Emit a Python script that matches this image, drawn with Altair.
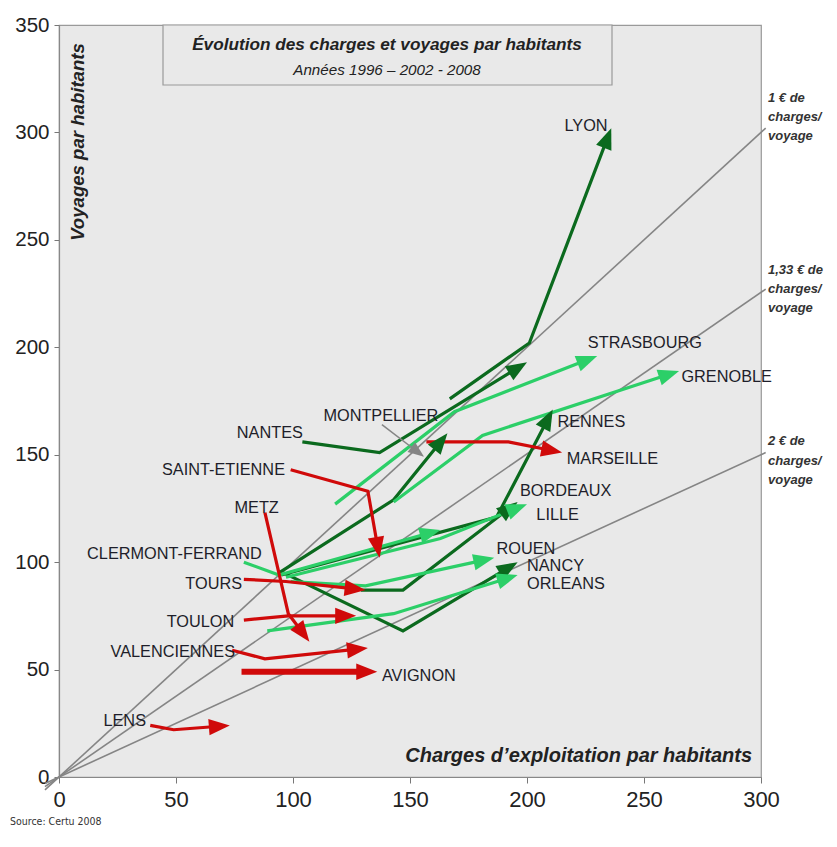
import math
import altair as alt
import pandas as pd

# ---------------- data ----------------
years = [1996, 2002, 2008]

city_names = ["LYON", "NANTES", "MONTPELLIER", "RENNES", "BORDEAUX", "NANCY",
              "STRASBOURG", "GRENOBLE", "CLERMONT-FERRAND", "LILLE", "ROUEN", "ORLEANS",
              "MARSEILLE", "SAINT-ETIENNE", "TOURS", "TOULON", "METZ", "VALENCIENNES",
              "AVIGNON", "LENS"]
city_group = ["dark", "dark", "dark", "dark", "dark", "dark",
              "light", "light", "light", "light", "light", "light",
              "red", "red", "red", "red", "red", "red", "red", "red"]

charges_1996 = [167, 104, 94, 95, 129, 96, 118, 143, 79, 97, 99, 89, 157, 99, 79, 79, 88, 74, 78, 39]
charges_2002 = [201, 137, 143, 187, 147, 147, 169, 181, 94, 163, 131, 143, 192, 132, 97, 98, 98, 88, 107, 49]
charges_2008 = [236, 200, 166, 211, 196, 196, 230, 265, 163, 200, 186, 196, 215, 137, 131, 127, 107, 132, 136, 73]

voyages_1996 = [176, 156, 95, 94, 87, 95, 127, 128, 100, 93, 91, 68, 156, 143, 92, 73, 123, 59, 49, 24]
voyages_2002 = [202, 151, 129, 121, 87, 68, 170, 159, 94, 111, 89, 76, 156, 133, 91, 75, 76, 55, 49, 22]
voyages_2008 = [302, 193, 160, 171, 128, 100, 196, 189, 115, 127, 102, 94, 151, 102, 87, 75, 63, 60, 49, 24]

# label anchor points (left end of each name, in chart units)
label_x = [216, 76, 113, 213, 197, 200, 226, 266, 12, 204, 187, 200, 217, 44, 54, 46, 75, 22, 138, 19]
label_y = [303, 160, 168, 165, 133, 98, 202, 186, 104, 122, 106, 90, 148, 143, 90, 72, 125, 58, 47, 26]

# Montpellier pointer (from label to its line)
pointer_x = [138, 156]
pointer_y = [164, 149]

# cost-per-trip reference lines
ratio_names = ["1", "1.33", "2"]
ratio_values = [1.0, 1.33, 2.0]
ratio_x = [-6, 302]

# ---------------- geometry ----------------
W, H = 702, 752
XMAX, YMAX = 300, 350
sx, sy = W / XMAX, H / YMAX
HEAD = 440             # symbol size of arrowheads
HALF = math.sqrt(HEAD) / 2

DARK, LIGHT, RED, GREY = "#0b6a1e", "#2ccf68", "#d00a0a", "#858585"

rows, heads = [], []
for i, c in enumerate(city_names):
    xs = [charges_1996[i], charges_2002[i], charges_2008[i]]
    ys = [voyages_1996[i], voyages_2002[i], voyages_2008[i]]
    a = math.atan2(-(ys[2] - ys[1]) * sy, (xs[2] - xs[1]) * sx)
    cx = xs[2] - HALF * math.cos(a) / sx
    cy = ys[2] + HALF * math.sin(a) / sy
    for k in range(3):
        px, py = (xs[k], ys[k]) if k < 2 else (cx, cy)
        rows.append({"city": c, "group": city_group[i], "year": years[k],
                     "x": px, "y": py})
    heads.append({"city": c, "group": city_group[i], "x": cx, "y": cy,
                  "angle": math.degrees(a) % 360})

lines_df = pd.DataFrame(rows)
heads_df = pd.DataFrame(heads)
labels_df = pd.DataFrame({"city": city_names, "x": label_x, "y": label_y})

diag_rows = []
for n, r in zip(ratio_names, ratio_values):
    for xv in ratio_x:
        diag_rows.append({"ratio": n, "x": xv, "y": xv / r})
diag_df = pd.DataFrame(diag_rows)

pa = math.atan2(-(pointer_y[1] - pointer_y[0]) * sy, (pointer_x[1] - pointer_x[0]) * sx)
PH = 8
pcx = pointer_x[1] - PH * math.cos(pa) / sx
pcy = pointer_y[1] + PH * math.sin(pa) / sy
pointer_df = pd.DataFrame({"x": [pointer_x[0], pcx], "y": [pointer_y[0], pcy], "o": [0, 1]})
pointer_head_df = pd.DataFrame({"x": [pcx], "y": [pcy], "angle": [math.degrees(pa) % 360]})

xscale = alt.Scale(domain=[0, XMAX], nice=False, zero=False)
yscale = alt.Scale(domain=[0, YMAX], nice=False, zero=False)
cscale = alt.Scale(domain=["dark", "light", "red"], range=[DARK, LIGHT, RED])
ARROW = "M1,0L-1,-0.78L-1,0.78Z"

X = alt.X("x:Q", scale=xscale, axis=alt.Axis(
    values=[0, 50, 100, 150, 200, 250, 300], title=None, grid=False,
    labelFont="Liberation Sans", labelFontSize=22, labelColor="#222",
    labelPadding=6, tickSize=6, tickColor="#777", domainColor="#888", labelFlush=False))
Y = alt.Y("y:Q", scale=yscale, axis=alt.Axis(
    values=[0, 50, 100, 150, 200, 250, 300, 350], title=None, grid=False,
    labelFont="Liberation Sans", labelFontSize=20.5, labelColor="#222",
    labelPadding=5, tickSize=5, tickColor="#777", domainColor="#888", labelFlush=False))

diag = alt.Chart(diag_df).mark_line(color=GREY, strokeWidth=1.6).encode(
    x=X, y=Y, detail="ratio:N")

city_lines = alt.Chart(lines_df).mark_line(strokeJoin="miter").encode(
    x="x:Q", y="y:Q", detail="city:N", order="year:O",
    color=alt.Color("group:N", scale=cscale, legend=None),
    strokeWidth=alt.condition(alt.datum.city == "AVIGNON", alt.value(6), alt.value(3.2)))

city_heads = alt.Chart(heads_df).mark_point(shape=ARROW, filled=True, size=HEAD, opacity=1).encode(
    x="x:Q", y="y:Q", angle=alt.Angle("angle:Q", scale=None),
    color=alt.Color("group:N", scale=cscale, legend=None))

city_labels = alt.Chart(labels_df).mark_text(
    align="left", baseline="middle", font="Liberation Sans", fontSize=16.3, color="#1e1e2a"
).encode(x="x:Q", y="y:Q", text="city:N")

pointer = alt.Chart(pointer_df).mark_line(color=GREY, strokeWidth=1.5).encode(
    x="x:Q", y="y:Q", order="o:Q")
pointer_head = alt.Chart(pointer_head_df).mark_point(
    shape=ARROW, filled=True, size=PH * PH * 4, color=GREY, opacity=1).encode(
    x="x:Q", y="y:Q", angle=alt.Angle("angle:Q", scale=None))

# title box inside the plot
box = alt.Chart(pd.DataFrame({"a": [0]})).mark_rect(
    fill="#e9e9e9", stroke="#9a9a9a", strokeWidth=1.2).encode(
    x=alt.value(104), x2=alt.value(553), y=alt.value(0), y2=alt.value(60))


def txt(text, x, y, size, bold=True, italic=True, align="center", angle=0, font="Liberation Sans", color="#222"):
    return alt.Chart(pd.DataFrame({"t": [text]})).mark_text(
        align=align, baseline="middle", fontSize=size, font=font, color=color,
        fontWeight="bold" if bold else "normal",
        fontStyle="italic" if italic else "normal", angle=angle
    ).encode(x=alt.value(x), y=alt.value(y), text="t:N")


texts = [
    txt("Évolution des charges et voyages par habitants", 328, 20, 17.2),
    txt("Années 1996 – 2002 - 2008", 328, 45, 15.2, bold=False),
    txt("Voyages par habitants", 19, 117, 18.6, angle=270),
    txt("Charges d’exploitation par habitants", 693, 731, 20, align="right"),
    txt("1 € de", 709, 73, 13, align="left", color="#333"),
    txt("charges/", 709, 92, 13, align="left", color="#333"),
    txt("voyage", 709, 111, 13, align="left", color="#333"),
    txt("1,33 € de", 709, 245, 13, align="left", color="#333"),
    txt("charges/", 709, 264, 13, align="left", color="#333"),
    txt("voyage", 709, 283, 13, align="left", color="#333"),
    txt("2 € de", 709, 416, 13, align="left", color="#333"),
    txt("charges/", 709, 436, 13, align="left", color="#333"),
    txt("voyage", 709, 455, 13, align="left", color="#333"),
    txt("Source: Certu 2008", -49, 797, 10.5, bold=False, italic=False, align="left",
        font="DejaVu Sans Condensed, Liberation Sans", color="#333"),
]

chart = alt.layer(
    box, diag, city_lines, city_heads, pointer, pointer_head, city_labels, *texts
).properties(
    width=W, height=H,
    autosize=alt.AutoSizeParams(type="none"),
    padding={"left": 51, "top": 17, "right": 68, "bottom": 52},
    background="white",
).configure_view(
    fill="#e9e9e9", stroke="#9a9a9a", strokeWidth=1.2
).configure_axis(
    domainWidth=1.2
)

chart.save("out.html", embed_options={"renderer": "svg", "actions": False})
